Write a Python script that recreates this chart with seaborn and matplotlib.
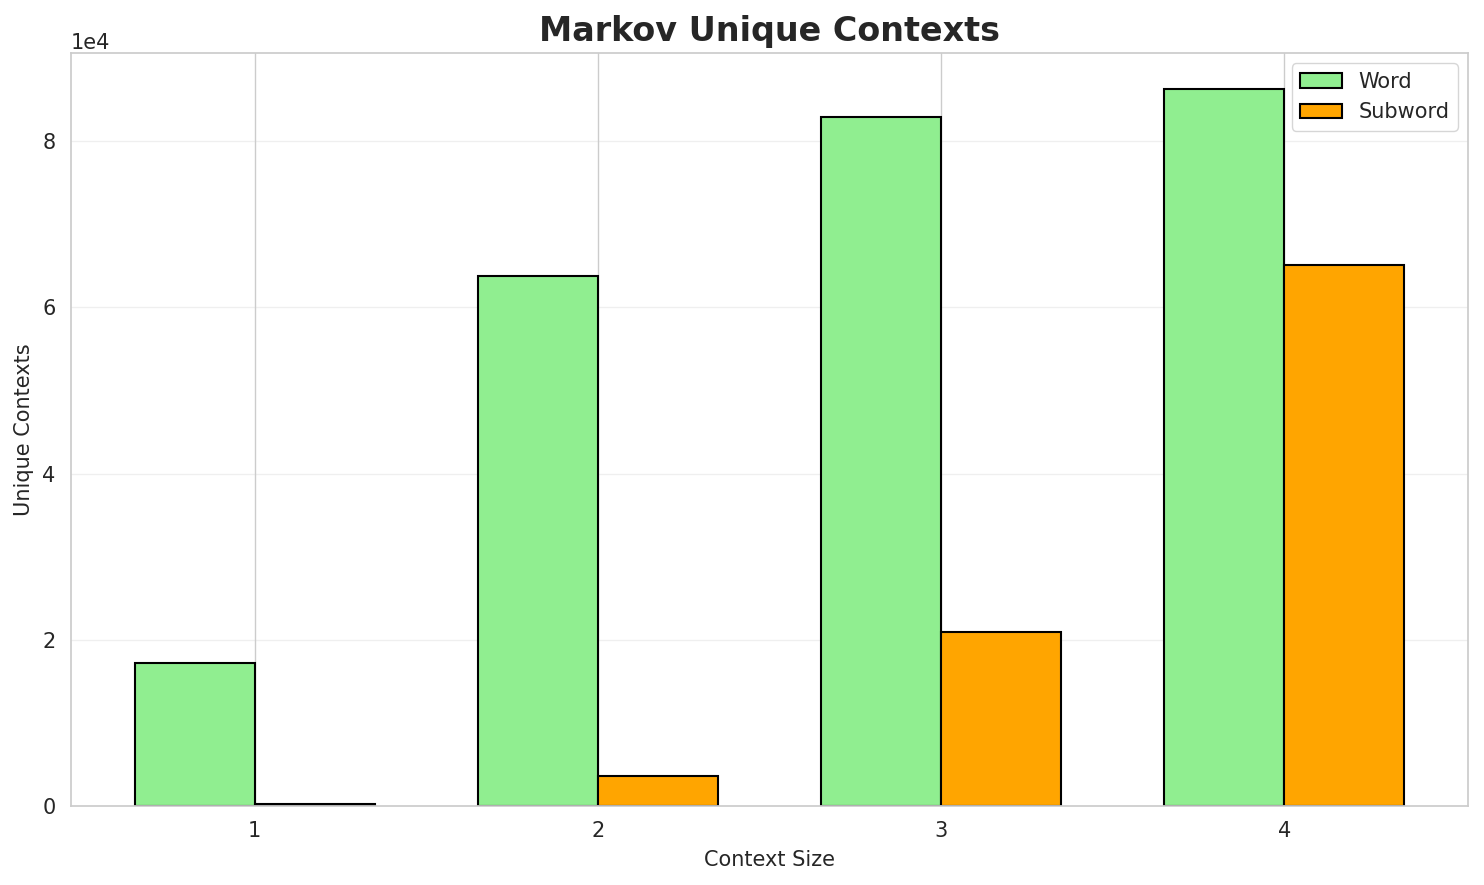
import matplotlib
matplotlib.use("Agg")
import matplotlib.pyplot as plt
import seaborn as sns
import pandas as pd

context_sizes = [1, 2, 3, 4]
word_contexts = [17200, 63800, 82900, 86300]
subword_contexts = [300, 3600, 20900, 65100]
series_names = ["Word", "Subword"]

sns.set_theme(style="whitegrid")

df = pd.DataFrame({
    "Context Size": context_sizes * 2,
    "Unique Contexts": word_contexts + subword_contexts,
    "Model": [series_names[0]] * len(context_sizes) + [series_names[1]] * len(context_sizes),
})

fig, ax = plt.subplots(figsize=(14.84, 8.85), dpi=100)
fig.subplots_adjust(left=71/1484, right=1468/1484, top=1-53/885, bottom=1-806/885)

sns.barplot(data=df, x="Context Size", y="Unique Contexts", hue="Model",
            palette={"Word": "lightgreen", "Subword": "orange"},
            width=0.7, edgecolor="black", linewidth=1.5, saturation=1, ax=ax)

ax.set_xlim(-0.535, 3.535)
ax.ticklabel_format(axis="y", style="sci", scilimits=(0, 0))
ax.set_xlabel("Context Size", fontsize=15, labelpad=6)
ax.set_ylabel("Unique Contexts", fontsize=15, labelpad=6)
ax.set_title("Markov Unique Contexts", fontsize=24, fontweight="bold", pad=9)
ax.tick_params(labelsize=15, pad=5)
ax.yaxis.get_offset_text().set_fontsize(15)
ax.xaxis.grid(True)
ax.yaxis.grid(True, alpha=0.3)
ax.set_axisbelow(True)
ax.legend(title=None, fontsize=15, loc="upper right")

fig.savefig("out.png", dpi=100)
